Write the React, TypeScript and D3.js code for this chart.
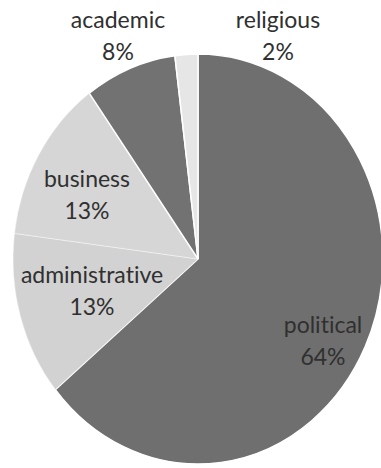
import React from "react";
import * as d3 from "d3";

const categories = ["political", "administrative", "business", "academic", "religious"];
const values = [64, 13, 13, 8, 2];
const labels = ["64%", "13%", "13%", "8%", "2%"];
const colors = ["#6f6f6f", "#d2d2d2", "#d6d6d6", "#727272", "#e6e6e6"];
// label anchor positions (layout, px) for each category
const labelPos: [number, number][] = [
  [323, 333],
  [92, 283],
  [87, 187],
  [118, 28],
  [278, 28],
];

const W = 381;
const H = 468;
const cx = 198;
const cy = 259;
const rx = 185;
const ry = 205;

export default function App() {
  const pie = d3.pie<number>().sort(null).startAngle(0).endAngle(2 * Math.PI).value((d) => d);
  const arcs = pie(values);
  const arc = d3.arc<d3.PieArcDatum<number>>().innerRadius(0).outerRadius(1);
  return (
    <svg width={W} height={H} style={{ position: "absolute", left: 0, top: 0, background: "#fff" }}>
      <g transform={`translate(${cx},${cy}) scale(${rx},${ry})`}>
        {arcs.map((a, i) => (
          <path
            key={categories[i]}
            d={arc(a) || ""}
            fill={colors[i]}
            stroke="#ffffff"
            strokeWidth={i === 1 || i === 2 ? 0.8 : 1.5}
            strokeOpacity={i === 1 || i === 2 ? 0.5 : 1}
            vectorEffect="non-scaling-stroke"
          />
        ))}
      </g>
      {categories.map((c, i) => (
        <text
          key={c}
          x={labelPos[i][0]}
          y={labelPos[i][1]}
          textAnchor="middle"
          fontFamily="Lato, 'Open Sans', sans-serif"
          fontSize={23}
          fill="#303030"
          style={{ fontVariantLigatures: "none" }}
        >
          <tspan x={labelPos[i][0]}>{c}</tspan>
          <tspan x={labelPos[i][0]} dy={32}>{labels[i]}</tspan>
        </text>
      ))}
    </svg>
  );
}
